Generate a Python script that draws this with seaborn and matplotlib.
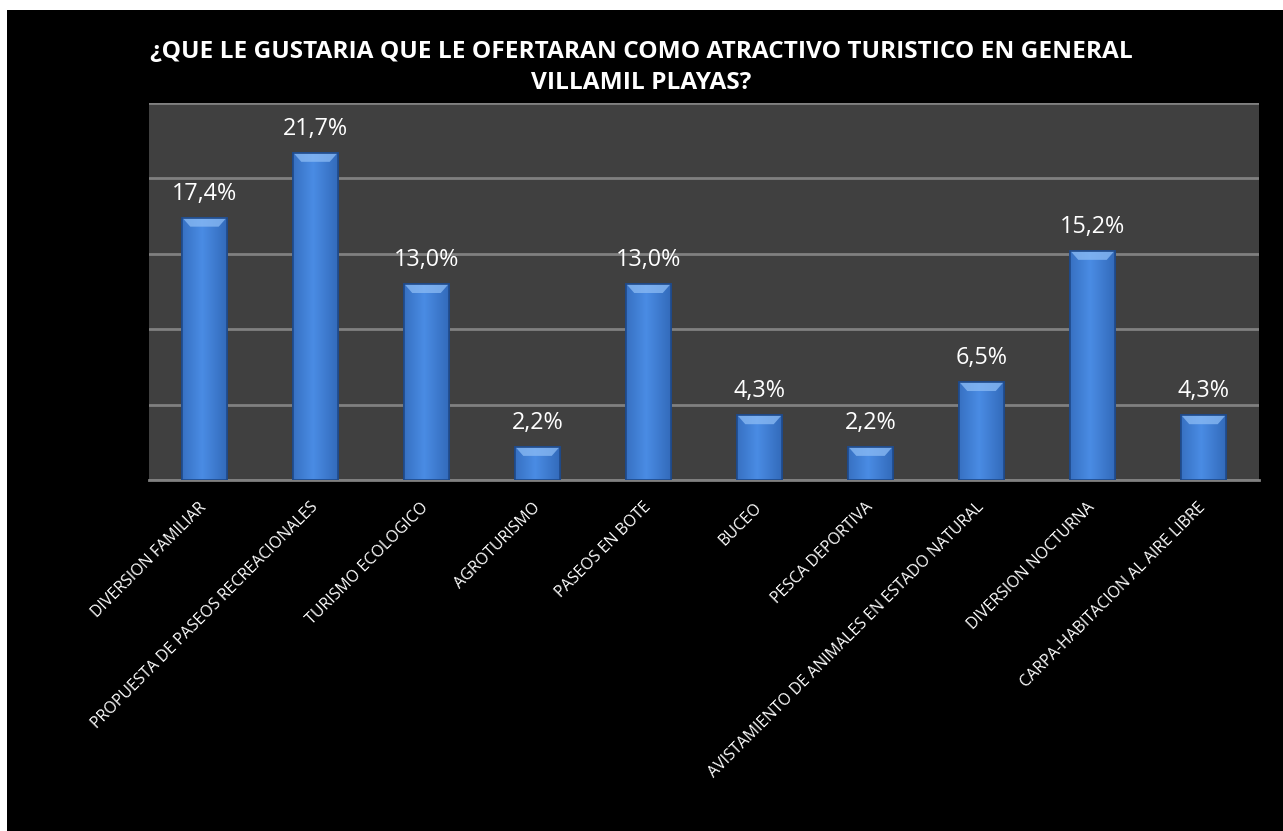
import matplotlib
matplotlib.use("Agg")
import matplotlib.pyplot as plt
import matplotlib.patches as mpatches
import numpy as np
import pandas as pd
import seaborn as sns

categories = [
    "DIVERSION FAMILIAR",
    "PROPUESTA DE PASEOS RECREACIONALES",
    "TURISMO ECOLOGICO",
    "AGROTURISMO",
    "PASEOS EN BOTE",
    "BUCEO",
    "PESCA DEPORTIVA",
    "AVISTAMIENTO DE ANIMALES EN ESTADO NATURAL",
    "DIVERSION NOCTURNA",
    "CARPA-HABITACION AL AIRE LIBRE",
]
values = [17.4, 21.7, 13.0, 2.2, 13.0, 4.3, 2.2, 6.5, 15.2, 4.3]
value_labels = ["17,4%", "21,7%", "13,0%", "2,2%", "13,0%", "4,3%", "2,2%", "6,5%", "15,2%", "4,3%"]
title_text = "¿QUE LE GUSTARIA QUE LE OFERTARAN COMO ATRACTIVO TURISTICO EN GENERAL\nVILLAMIL PLAYAS?"

df = pd.DataFrame({"cat": categories, "val": values})

sns.set_theme(style="dark")
plt.rcParams["font.family"] = ["Open Sans", "DejaVu Sans"]

W, H = 1283, 831
fig = plt.figure(figsize=(W / 100, H / 100), dpi=100)
fig.patch.set_facecolor("white")
fig.patches.append(mpatches.Rectangle((7 / W, 0), 1, 1 - 10 / H, transform=fig.transFigure,
                                      facecolor="black", edgecolor="none", zorder=-10))

ax = fig.add_axes([149 / W, 1 - 480 / H, (1259 - 149) / W, (480 - 103) / H])
ax.set_facecolor("#404040")

sns.barplot(data=df, x="cat", y="val", ax=ax, color="#3a78cc", width=0.4,
            edgecolor="#1f4a8a", linewidth=1.2, zorder=3)

# gradient shading on bars
grad = np.linspace(0, 1, 64)
prof = 1 - 0.55 * np.abs(grad - 0.45) * 2
base_dark = np.array([0x24, 0x55, 0xa0]) / 255
base_light = np.array([0x4a, 0x8c, 0xe4]) / 255
img = base_dark[None, :] + (base_light - base_dark)[None, :] * prof[:, None]
img = img[None, :, :]
for p in ax.patches:
    x0, y0 = p.get_x(), p.get_y()
    w, h = p.get_width(), p.get_height()
    im = ax.imshow(img, extent=[x0, x0 + w, y0, y0 + h], aspect="auto", zorder=3.5,
                   interpolation="bilinear")
    im.set_clip_path(p)
    bh = min(0.6, h * 0.3)
    top = mpatches.Polygon([[x0, y0 + h], [x0 + w, y0 + h], [x0 + w - w * 0.18, y0 + h - bh],
                            [x0 + w * 0.18, y0 + h - bh]], closed=True,
                           facecolor="#8cbcf5", edgecolor="none", alpha=0.75, zorder=3.6)
    ax.add_patch(top)
    ax.add_patch(mpatches.Rectangle((x0, y0), w, h, facecolor="none", edgecolor="#1f4a8a",
                                    linewidth=1.2, zorder=3.7))

ax.set_xlim(-0.5, len(categories) - 0.5)
ax.set_ylim(0, 25)
ax.set_yticks([0, 5, 10, 15, 20, 25])
ax.set_yticklabels([])
ax.tick_params(axis="y", length=0)
ax.grid(axis="y", color="#808080", linewidth=2, zorder=0)
ax.grid(axis="x", visible=False)
for s in ["left", "right", "top"]:
    ax.spines[s].set_visible(False)
ax.spines["bottom"].set_visible(True)
ax.spines["bottom"].set_color("#808080")
ax.spines["bottom"].set_linewidth(2)

for i, (v, lab) in enumerate(zip(values, value_labels)):
    ax.annotate(lab, (i, v), xytext=(0, 8.5), textcoords="offset points", ha="center",
                va="bottom", color="white", fontsize=16.8)

ax.set_xlabel("")
ax.set_ylabel("")
ax.set_xticks(range(len(categories)))
ax.set_xticklabels(categories, rotation=45, ha="right", va="center", rotation_mode="anchor",
                   color="white", fontsize=11.5)
ax.tick_params(axis="x", length=0, pad=18)

fig.text(0.5, 1 - 67.5 / H, title_text, ha="center", va="center", color="white",
         fontsize=17.6, fontweight="bold", linespacing=1.4)

fig.savefig("out.png", dpi=100, facecolor=fig.get_facecolor())
